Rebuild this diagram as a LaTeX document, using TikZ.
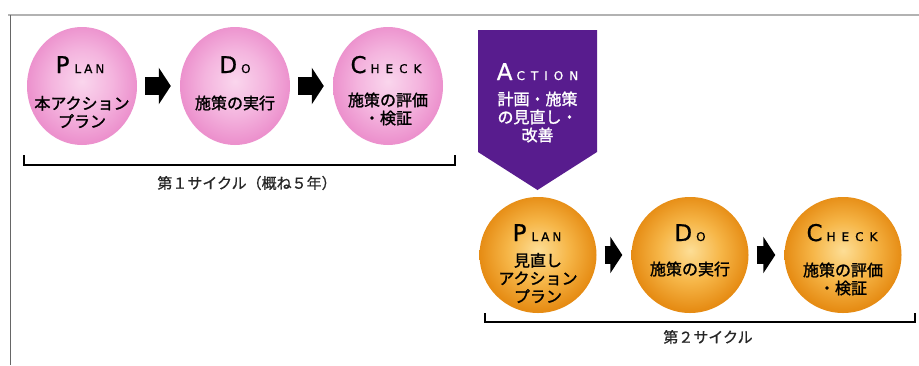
\documentclass[tikz,border=0pt]{standalone}
\usepackage{fontspec}
\setmainfont{Noto Sans CJK JP}
\newfontfamily\jpmed{Noto Sans CJK JP}[FakeBold=1.5]
\newfontfamily\jplab{Noto Sans CJK JP}[FakeBold=0.8]
\newfontfamily\latf{DejaVu Sans}[FakeBold=0.8]
\usetikzlibrary{arrows.meta,shapes.geometric}
\definecolor{pinkE}{RGB}{236,145,205}
\definecolor{pinkM}{RGB}{244,180,222}
\definecolor{pinkC}{RGB}{250,214,237}
\definecolor{orE}{RGB}{230,140,20}
\definecolor{orM}{RGB}{246,182,72}
\definecolor{orC}{RGB}{253,222,150}
\definecolor{purp}{RGB}{88,28,142}
\pgfdeclareradialshading{pinkball}{\pgfpoint{0bp}{2bp}}{color(0bp)=(pinkC); color(14bp)=(pinkM); color(25bp)=(pinkE); color(50bp)=(pinkE)}
\pgfdeclareradialshading{orball}{\pgfpoint{0bp}{2bp}}{color(0bp)=(orC); color(13bp)=(orM); color(25bp)=(orE); color(50bp)=(orE)}
\newcommand\ttlbig[1]{{\latf\fontsize{23}{23}\selectfont #1}}
\newcommand\ttlsmall[1]{{\latf\fontsize{12}{12}\selectfont #1}}
\begin{document}
\begin{tikzpicture}[x=1pt,y=-1pt,
  pinkc/.style={ellipse,minimum width=110pt,minimum height=118pt,inner sep=0pt,shade,shading=pinkball},
  orc/.style={ellipse,minimum width=117pt,minimum height=116pt,inner sep=0pt,shade,shading=orball},
  blockarrow/.style={line width=18pt,-{Triangle[width=36pt,length=12pt]},shorten <=8pt,shorten >=9pt},
  ttl/.style={anchor=base,inner sep=0pt},
  jp/.style={align=center,inner sep=0pt,font=\jpmed\fontsize{16}{18}\selectfont},
  brk/.style={line width=1.4pt,black},
  brklab/.style={inner sep=0pt,font=\jplab\fontsize{15}{15}\selectfont,text=black!85}]
\useasboundingbox (0,0) rectangle (919,365);
\fill[white] (0,0) rectangle (919,365);
\draw[black!30,line width=2pt] (8,15) -- (919,15);
\draw[black!60,line width=1.5pt] (10.5,15) -- (10.5,365);
% first cycle
\node[pinkc] (p1) at (82,86) {};
\node[pinkc] (d1) at (235,86) {};
\node[pinkc] (c1) at (388,86) {};
\draw[blockarrow] (p1) -- (d1);
\draw[blockarrow] (d1) -- (c1);
\node[ttl] (p1t) at (80,73) {\ttlbig{P}\kern5pt\ttlsmall{L\kern3pt A\kern3pt N}};
\node[jp] (p1j) at (82,112) {本アクション\\プラン};
\node[ttl] (d1t) at (235,73) {\ttlbig{D}\kern4pt\ttlsmall{O}};
\node[jp] (d1j) at (235,103) {施策の実行};
\node[ttl] (c1t) at (386,73) {\ttlbig{C}\kern4pt\ttlsmall{H\kern6pt E\kern6pt C\kern6pt K}};
\node[jp] (c1j) at (388,109) {施策の評価\\・検証};
\coordinate (b1a) at (24,155);
\coordinate (b1b) at (455,155);
\draw[brk] (b1a) -- ++(0,10) -| (b1b);
\node[brklab] (b1l) at (247,183) {第１サイクル（概ね５年）};
% action banner
\fill[purp] (478,30) -- (597,30) -- (597,152) -- (537.5,190) -- (478,152) -- cycle;
\node[ttl,text=white] (at) at (537.5,80) {\ttlbig{A}\kern4pt\ttlsmall{C\kern6pt T\kern6pt I\kern6pt O\kern6pt N}};
\node[jp,text=white] (aj) at (537.5,117) {計画・施策\\の見直し・\\改善};
% second cycle
\node[orc] (p2) at (538,255) {};
\node[orc] (d2) at (690,255) {};
\node[orc] (c2) at (843,255) {};
\draw[blockarrow] (p2) -- (d2);
\draw[blockarrow] (d2) -- (c2);
\node[ttl] (p2t) at (537,241) {\ttlbig{P}\kern5pt\ttlsmall{L\kern3pt A\kern3pt N}};
\node[jp] (p2j) at (538,278) {見直し\\アクション\\プラン};
\node[ttl] (d2t) at (690,241) {\ttlbig{D}\kern4pt\ttlsmall{O}};
\node[jp] (d2j) at (690,269) {施策の実行};
\node[ttl] (c2t) at (842,241) {\ttlbig{C}\kern4pt\ttlsmall{H\kern6pt E\kern6pt C\kern6pt K}};
\node[jp] (c2j) at (843,279) {施策の評価\\・検証};
\coordinate (b2a) at (485,313);
\coordinate (b2b) at (915,313);
\draw[brk] (b2a) -- ++(0,9) -| (b2b);
\node[brklab] (b2l) at (708,337) {第２サイクル};
\end{tikzpicture}
\end{document}
